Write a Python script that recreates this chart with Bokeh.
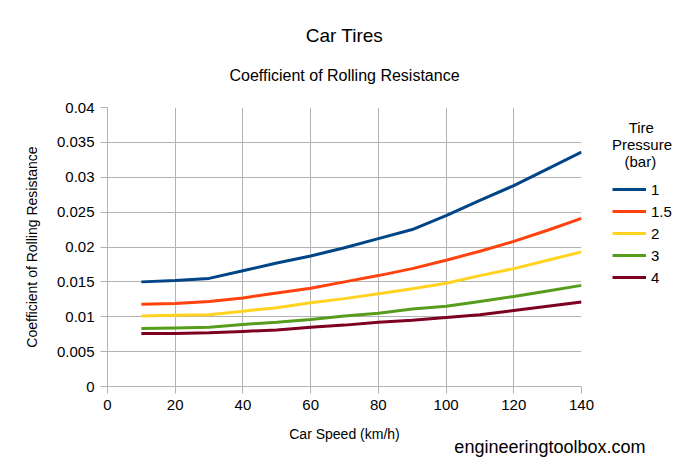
from bokeh.plotting import figure
from bokeh.models import (Range1d, FixedTicker, CustomJSTickFormatter, Legend, LegendItem, Title)
from bokeh.embed import file_html
from bokeh.resources import INLINE

speed = [10, 20, 30, 40, 50, 60, 70, 80, 90, 100, 110, 120, 130, 140]
crr_1bar = [0.0150, 0.0152, 0.0155, 0.0166, 0.0177, 0.0187, 0.0199, 0.0212, 0.0225, 0.0245, 0.0267, 0.0288, 0.0312, 0.0336]
crr_15bar = [0.0118, 0.0119, 0.0122, 0.0127, 0.0134, 0.0141, 0.0150, 0.0159, 0.0169, 0.0181, 0.0194, 0.0208, 0.0224, 0.0241]
crr_2bar = [0.0101, 0.0102, 0.0103, 0.0108, 0.0113, 0.0120, 0.0126, 0.0133, 0.0140, 0.0148, 0.0159, 0.0169, 0.0181, 0.0193]
crr_3bar = [0.0083, 0.0084, 0.0085, 0.0089, 0.0092, 0.0096, 0.0101, 0.0105, 0.0111, 0.0115, 0.0122, 0.0129, 0.0137, 0.0145]
crr_4bar = [0.0076, 0.0076, 0.0077, 0.0079, 0.0081, 0.0085, 0.0088, 0.0092, 0.0095, 0.0099, 0.0103, 0.0109, 0.0115, 0.0121]

series_labels = ["1", "1.5", "2", "3", "4"]
series_values = [crr_1bar, crr_15bar, crr_2bar, crr_3bar, crr_4bar]
colors = ["#004586", "#ff420e", "#ffd320", "#579d1c", "#7e0021"]

x_ticks = [0, 20, 40, 60, 80, 100, 120, 140]
y_ticks = [0, 0.005, 0.01, 0.015, 0.02, 0.025, 0.03, 0.035, 0.04]

NB = "\u00a0"
legend_title = NB * 4 + "Tire\nPressure\n" + NB * 3 + "(bar)"

FONT = "Liberation Sans"
GRID = "#b3b3b3"

p = figure(frame_width=474, frame_height=279, output_backend="svg", toolbar_location=None,
           x_range=Range1d(0, 140), y_range=Range1d(0, 0.04),
           min_border_left=107, min_border_right=100, min_border_top=107, min_border_bottom=74)
p.outline_line_color = None
p.background_fill_color = "white"
p.border_fill_color = "white"

p.title.text = "Car Tires"
p.title.align = "center"
p.title.text_font = FONT
p.title.text_font_size = "19px"
p.title.text_font_style = "normal"
p.title.text_color = "black"
p.title.standoff = -9
p.add_layout(Title(text="Coefficient of Rolling Resistance", align="center", text_font=FONT,
                   text_font_size="16px", text_font_style="normal", text_color="black",
                   standoff=47), "above")

for ax in (p.xaxis[0], p.yaxis[0]):
    ax.axis_line_color = GRID
    ax.major_tick_line_color = GRID
    ax.major_tick_out = 7
    ax.major_tick_in = 0
    ax.minor_tick_line_color = None
    ax.major_label_text_font = FONT
    ax.major_label_text_font_size = "15px"
    ax.major_label_text_color = "black"
    ax.axis_label_text_font = FONT
    ax.axis_label_text_font_size = "14px"
    ax.axis_label_text_font_style = "normal"
    ax.axis_label_text_color = "black"

p.xaxis.ticker = FixedTicker(ticks=x_ticks)
p.yaxis.ticker = FixedTicker(ticks=y_ticks)
p.yaxis.formatter = CustomJSTickFormatter(code="return tick.toFixed(3).replace(/\\.?0+$/, '');")
p.xaxis.axis_label = "Car Speed (km/h)"
p.yaxis.axis_label = "Coefficient of Rolling Resistance"
p.xaxis.major_label_standoff = 6
p.yaxis.major_label_standoff = 6
p.xaxis.axis_label_standoff = 13
p.yaxis.axis_label_standoff = 14

p.xgrid.ticker = FixedTicker(ticks=x_ticks)
p.ygrid.ticker = FixedTicker(ticks=y_ticks)
p.grid.grid_line_color = GRID
p.grid.grid_line_width = 1

items = []
for lab, vals, col in zip(series_labels, series_values, colors):
    r = p.line(speed, vals, line_color=col, line_width=3)
    items.append(LegendItem(label=lab, renderers=[r]))

legend = Legend(items=items, location=(31, 99), padding=0, margin=0,
                border_line_color=None, background_fill_alpha=0,
                glyph_width=34, glyph_height=20, label_height=20, spacing=2,
                label_standoff=5, label_text_font=FONT, label_text_font_size="15px",
                label_text_color="black",
                title=legend_title, title_text_font=FONT, title_text_font_size="15px",
                title_text_font_style="normal", title_text_color="black", title_standoff=9)
p.add_layout(legend, "right")

p.add_layout(Title(text="engineeringtoolbox.com", align="right", offset=-64, standoff=-24,
                   text_font=FONT, text_font_size="18px", text_font_style="normal",
                   text_color="black"), "below")

open("out.html", "w").write(file_html(p, INLINE))
